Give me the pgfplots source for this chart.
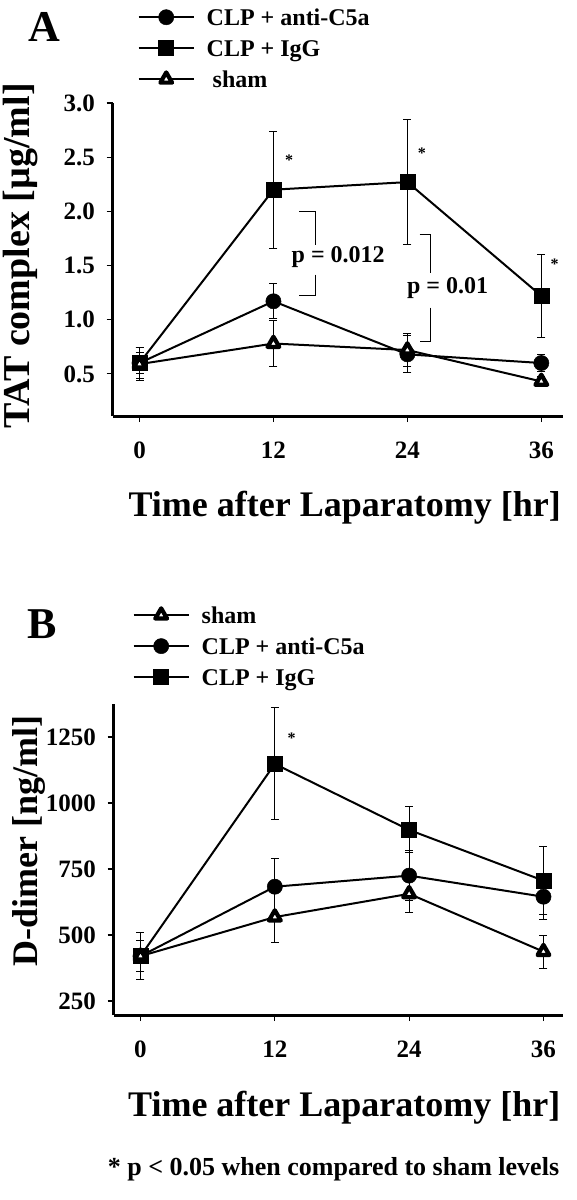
\documentclass[border=0pt]{standalone}
\usepackage{fontspec}
\setmainfont{Liberation Serif}
\usepackage{pgfplots}
\usepackage{pgfplotstable}
\pgfplotsset{compat=1.18}
\newcommand\fs[1]{\fontsize{#1}{#1}\selectfont\bfseries}

% Panel A: TAT complex [ug/ml]
\pgfplotstableread{
x y e
0 0.60 0.14
12 2.20 0.54
24 2.27 0.58
36 1.22 0.38
}\Aigg
\pgfplotstableread{
x y e
0 0.60 0.10
12 1.17 0.16
24 0.68 0.17
36 0.60 0.08
}\Acfa
\pgfplotstableread{
x y e
0 0.59 0.15
12 0.78 0.21
24 0.72 0.15
36 0.43 0.05
}\Asham
% Panel B: D-dimer [ng/ml]
\pgfplotstableread{
x y e
0 420 90
12 1148 212
24 898 87
36 706 128
}\Bigg
\pgfplotstableread{
x y e
0 420 60
12 683 105
24 725 95
36 645 85
}\Bcfa
\pgfplotstableread{
x y e
0 420 90
12 568 97
24 656 71
36 437 63
}\Bsham

\pgfplotsset{
  igg/.style={black, line width=2pt, mark=square*, mark size=7.5pt, mark options={solid, fill=black, line width=0.5pt}},
  cfa/.style={black, line width=2pt, mark=*, mark size=7.6pt, mark options={solid, fill=black, line width=0.5pt}},
  sham/.style={black, line width=2pt, mark=triangle*, mark size=6.8pt, mark options={solid, fill=white, line width=4.2pt, line join=round}},
  eb/.style={/pgfplots/error bars/y dir=both, /pgfplots/error bars/y explicit,
     /pgfplots/error bars/error bar style={line width=1pt, solid},
     /pgfplots/error bars/error mark=-,
     /pgfplots/error bars/error mark options={rotate=90, line width=1pt, mark size=4pt}},
  common/.style={
    scale only axis, clip=false,
    axis lines=left, axis line style={-, line width=3pt},
    tick align=outside, major tick length=6pt,
    tick style={line width=1.2pt, black},
    xtick={0,12,24,36},
    tick label style={font=\fs{25}},
    /pgf/number format/assume math mode=true,
    xticklabel style={yshift=-16pt},
    yticklabel style={xshift=-8pt},
    label style={font=\fs{36}},
    legend cell align=left,
    legend image code/.code={\draw[mark repeat=2, mark phase=2, ##1] plot coordinates {(0pt,0pt) (27.5pt,0pt) (55pt,0pt)};},
    legend style={draw=none, fill=none, inner sep=0pt, row sep=7pt, font=\fs{24},
      nodes={inner sep=0pt, text height=20pt, text depth=4pt},
      /tikz/every odd column/.style={column sep=12pt}},
  },
}

\begin{document}
\begin{tikzpicture}
\path (0pt,0pt) rectangle (572pt,-1200pt);
\node[font=\fs{44}] at (40pt,-27pt) {A};
\node[font=\fs{44}] at (38pt,-624pt) {B};

\begin{axis}[common,
  at={(108pt,-416pt)}, anchor=south west,
  width=450pt, height=313pt,
  xmin=-2.42, xmax=37.9, ymin=0.111, ymax=3.0,
  ytick={0.5,1.0,1.5,2.0,2.5,3.0},
  yticklabel style={/pgf/number format/.cd, fixed, fixed zerofill, precision=1},
  xlabel={Time after Laparatomy [hr]},
  ylabel={TAT complex [\textmu g/ml]},
  xlabel style={at={(axis description cs:0.516,-0.294)}, anchor=center},
  ylabel style={at={(axis description cs:-0.204,0.511)}, anchor=center, rotate=0, font=\fs{38}},
  legend style={at={(axis description cs:0.0556,1.313)}, anchor=north west},
]
\addlegendimage{cfa}
\addlegendentry{CLP + anti-C5a}
\addlegendimage{igg}
\addlegendentry{CLP + IgG}
\addlegendimage{sham}
\addlegendentry{\hspace{6pt}sham}
\addplot[forget plot, igg, eb] table[x=x, y=y, y error=e] {\Aigg};
\addplot[forget plot, cfa, eb] table[x=x, y=y, y error=e] {\Acfa};
\addplot[forget plot, sham, eb] table[x=x, y=y, y error=e] {\Asham};
\node[font=\fs{16}] at (axis cs:13.4,2.47) {*};
\node[font=\fs{16}] at (axis cs:25.3,2.54) {*};
\node[font=\fs{16}] at (axis cs:37.2,1.51) {*};
\draw[line width=1pt] (axis cs:14.3,2.0) -| (axis cs:15.8,1.694);
\draw[line width=1pt] (axis cs:15.8,1.417) |- (axis cs:14.3,1.222);
\node[font=\fs{24}] at (axis cs:17.8,1.574) {p = 0.012};
\draw[line width=1pt] (axis cs:25.1,1.787) -| (axis cs:26.1,1.435);
\draw[line width=1pt] (axis cs:26.1,1.111) |- (axis cs:25.1,0.796);
\node[font=\fs{24}] at (axis cs:27.6,1.296) {p = 0.01};
\end{axis}

\begin{axis}[common,
  at={(109pt,-1015pt)}, anchor=south west,
  width=449pt, height=311pt,
  xmin=-2.41, xmax=37.7, ymin=197, ymax=1375,
  ytick={250,500,750,1000,1250},
  yticklabel style={/pgf/number format/.cd, fixed, set thousands separator={}},
  xlabel={Time after Laparatomy [hr]},
  ylabel={D-dimer [ng/ml]},
  xlabel style={at={(axis description cs:0.514,-0.299)}, anchor=center},
  ylabel style={at={(axis description cs:-0.189,0.559)}, anchor=center, rotate=0},
  legend style={at={(axis description cs:0.0423,1.325)}, anchor=north west},
]
\addlegendimage{sham}
\addlegendentry{sham}
\addlegendimage{cfa}
\addlegendentry{CLP + anti-C5a}
\addlegendimage{igg}
\addlegendentry{CLP + IgG}
\addplot[forget plot, igg, eb] table[x=x, y=y, y error=e] {\Bigg};
\addplot[forget plot, cfa, eb] table[x=x, y=y, y error=e] {\Bcfa};
\addplot[forget plot, sham, eb] table[x=x, y=y, y error=e] {\Bsham};
\node[font=\fs{16}] at (axis cs:13.5,1245) {*};
\end{axis}

\node[font=\fs{26}] at (329pt,-1169pt) {* p < 0.05 when compared to sham levels};
\end{tikzpicture}
\end{document}
